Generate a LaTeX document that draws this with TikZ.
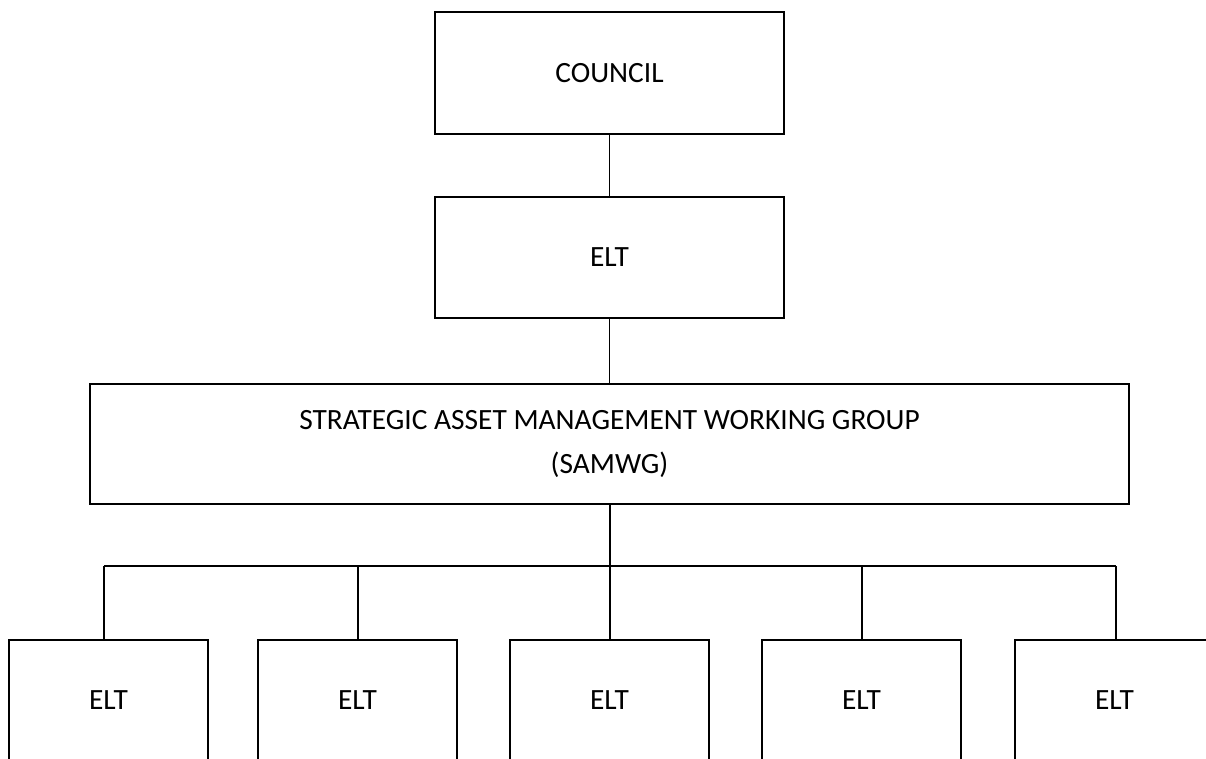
\documentclass[tikz,border=0pt]{standalone}
\usepackage{fontspec}
\setmainfont{Carlito}
\begin{document}
\begin{tikzpicture}[x=1pt,y=-1pt,
  box/.style={draw=black,line width=2.3pt,inner sep=0pt,align=center,
    font=\fontsize{29.4}{44}\selectfont},
  lower/.style={box,anchor=north,minimum width=199pt,text height=69pt,text depth=120pt},
  link/.style={draw=black,line width=1.5pt}]
\useasboundingbox (0,0) rectangle (1206,758);
\clip (0,0) rectangle (1206,758);
\fill[white] (0,0) rectangle (1206,758);

% upper chain
\node[box,minimum width=349pt,minimum height=122pt] (council) at (609.5,73) {COUNCIL};
\node[box,minimum width=349pt,minimum height=121pt] (elt) at (609.5,257.5) {ELT};
\node[box,minimum width=1039pt,minimum height=120pt] (samwg) at (609.5,444)
  {STRATEGIC ASSET MANAGEMENT WORKING GROUP\\(SAMWG)};

% lower row, running past the bottom edge
\node[lower] (b1) at (108.5,639) {ELT};
\node[lower] (b2) at (357.5,639) {ELT};
\node[lower] (b3) at (609.5,639) {ELT};
\node[lower] (b4) at (861.5,639) {ELT};
\node[lower] (b5) at (1114.5,639) {ELT};

% connectors
\draw[link] (council.south) -- (elt.north);
\draw[link] (elt.south) -- (samwg.north);
\coordinate (bus) at (610,566);
\draw[link] (samwg.south -| bus) -- (bus);
\coordinate (t1) at (104,566);
\coordinate (t2) at (358,566);
\coordinate (t3) at (610,566);
\coordinate (t4) at (862,566);
\coordinate (t5) at (1116,566);
\draw[link] (t1) -- (t5);
\draw[link] (t1) -- (t1 |- b1.north);
\draw[link] (t2) -- (t2 |- b2.north);
\draw[link] (t3) -- (t3 |- b3.north);
\draw[link] (t4) -- (t4 |- b4.north);
\draw[link] (t5) -- (t5 |- b5.north);
\end{tikzpicture}
\end{document}
